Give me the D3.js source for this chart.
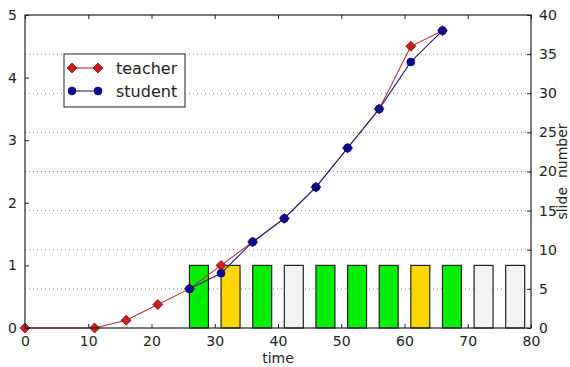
<!DOCTYPE html>
<html>
<head>
<meta charset="utf-8">
<script src="https://cdn.jsdelivr.net/npm/d3@7"></script>
<style>
  body { margin: 0; background: #fff; }
  text { font-family: "DejaVu Sans", sans-serif; fill: #222; }
</style>
</head>
<body>
<div id="chart"></div>
<script>
// slide bars: start time, colour class
const barStarts = [26, 31, 36, 41, 46, 51, 56, 61, 66, 71, 76];
const barKinds = ["green", "yellow", "green", "white", "green", "green", "green", "yellow", "green", "white", "white"];
const barWidth = 3;
const barHeight = 1;

const teacherTime = [0, 11, 16, 21, 26, 31, 36, 41, 46, 51, 56, 61, 66];
const teacherSlide = [0, 0, 1, 3, 5, 8, 11, 14, 18, 23, 28, 36, 38];
const studentTime = [26, 31, 36, 41, 46, 51, 56, 61, 66];
const studentSlide = [5, 7, 11, 14, 18, 23, 28, 34, 38];

const xTicks = [0, 10, 20, 30, 40, 50, 60, 70, 80];
const leftTicks = [0, 1, 2, 3, 4, 5];
const rightTicks = [0, 5, 10, 15, 20, 25, 30, 35, 40];

const W = 570, H = 367;
const plot = { left: 25, right: 531, top: 15, bottom: 328 };

const svg = d3.select('#chart').append('svg')
    .attr('width', W)
    .attr('height', H);

const x = d3.scaleLinear().domain([0, 80]).range([plot.left, plot.right]);
const yL = d3.scaleLinear().domain([0, 5]).range([plot.bottom, plot.top]);
const yR = d3.scaleLinear().domain([0, 40]).range([plot.bottom, plot.top]);

const colours = { green: "#00ee00", yellow: "#ffd500", white: "#f2f2f2" };

// dotted grid from the right axis
svg.append('g')
    .selectAll('line')
    .data(rightTicks.slice(1, -1))
    .enter().append('line')
    .attr('x1', plot.left).attr('x2', plot.right)
    .attr('y1', d => yR(d)).attr('y2', d => yR(d))
    .attr('stroke', '#888')
    .attr('stroke-width', 1)
    .attr('stroke-dasharray', '1,3');

// bars
svg.append('g')
    .selectAll('rect')
    .data(barStarts)
    .enter().append('rect')
    .attr('x', d => x(d))
    .attr('y', yL(barHeight))
    .attr('width', d => x(d + barWidth) - x(d))
    .attr('height', yL(0) - yL(barHeight))
    .attr('fill', (d, i) => colours[barKinds[i]])
    .attr('stroke', '#222')
    .attr('stroke-width', 1.2);

const teacher = teacherTime.map((t, i) => [t, teacherSlide[i]]);
const student = studentTime.map((t, i) => [t, studentSlide[i]]);
const line = d3.line().x(d => x(d[0])).y(d => yR(d[1]));

const diamond = d3.symbol().type(d3.symbolSquare).size(50);

function drawTeacher(g) {
    g.append('path')
        .attr('d', line(teacher))
        .attr('fill', 'none')
        .attr('stroke', '#b3343a')
        .attr('stroke-width', 1.1);
    g.selectAll('path.m')
        .data(teacher)
        .enter().append('path')
        .attr('class', 'm')
        .attr('d', diamond)
        .attr('transform', d => `translate(${x(d[0])},${yR(d[1])}) rotate(45)`)
        .attr('fill', '#cc1f1f')
        .attr('stroke', '#8a1010')
        .attr('stroke-width', 0.8);
}

function drawStudent(g) {
    g.append('path')
        .attr('d', line(student))
        .attr('fill', 'none')
        .attr('stroke', '#23237a')
        .attr('stroke-width', 1.1);
    g.selectAll('circle')
        .data(student)
        .enter().append('circle')
        .attr('cx', d => x(d[0]))
        .attr('cy', d => yR(d[1]))
        .attr('r', 4)
        .attr('fill', '#0b0b96')
        .attr('stroke', '#05055a')
        .attr('stroke-width', 0.6);
}

drawTeacher(svg.append('g'));
drawStudent(svg.append('g'));

// frame
svg.append('rect')
    .attr('x', plot.left).attr('y', plot.top)
    .attr('width', plot.right - plot.left)
    .attr('height', plot.bottom - plot.top)
    .attr('fill', 'none')
    .attr('stroke', '#222')
    .attr('stroke-width', 1.2);

// axes, ticks inside
const tickLen = 4;
const bottomAxis = d3.axisBottom(x).tickValues(xTicks).tickSizeInner(-tickLen).tickSizeOuter(0).tickPadding(8);
const topAxis = d3.axisTop(x).tickValues(xTicks).tickSizeInner(-tickLen).tickSizeOuter(0).tickFormat('');
const leftAxis = d3.axisLeft(yL).tickValues(leftTicks).tickFormat(d3.format('d')).tickSizeInner(-tickLen).tickSizeOuter(0).tickPadding(8);
const rightAxis = d3.axisRight(yR).tickValues(rightTicks).tickSizeInner(-tickLen).tickSizeOuter(0).tickPadding(8);

function styleAxis(g) {
    g.select('.domain').remove();
    g.selectAll('.tick line').attr('stroke', '#222');
    g.selectAll('.tick text')
        .style('font-family', '"DejaVu Sans", sans-serif')
        .style('font-size', '14px')
        .attr('fill', '#222');
}

svg.append('g').attr('transform', `translate(0,${plot.bottom})`).call(bottomAxis).call(styleAxis);
svg.append('g').attr('transform', `translate(0,${plot.top})`).call(topAxis).call(styleAxis);
svg.append('g').attr('transform', `translate(${plot.left},0)`).call(leftAxis).call(styleAxis);
svg.append('g').attr('transform', `translate(${plot.right},0)`).call(rightAxis).call(styleAxis);

// axis labels
svg.append('text')
    .attr('x', (plot.left + plot.right) / 2)
    .attr('y', 363)
    .attr('text-anchor', 'middle')
    .style('font-size', '14px')
    .text('time');

svg.append('text')
    .attr('transform', `translate(567,${(plot.top + plot.bottom) / 2}) rotate(-90)`)
    .attr('text-anchor', 'middle')
    .style('font-size', '14px')
    .style('white-space', 'pre')
    .text('slide  number');

// legend
const legend = svg.append('g');
legend.append('rect')
    .attr('x', 64).attr('y', 54)
    .attr('width', 121).attr('height', 53)
    .attr('fill', '#fff')
    .attr('stroke', '#222')
    .attr('stroke-width', 1);

const legendRows = [
    { name: 'teacher', y: 68 },
    { name: 'student', y: 91 }
];

legendRows.forEach(r => {
    const g = legend.append('g');
    const isT = r.name === 'teacher';
    g.append('line')
        .attr('x1', 72).attr('x2', 98)
        .attr('y1', r.y).attr('y2', r.y)
        .attr('stroke', isT ? '#b3343a' : '#23237a')
        .attr('stroke-width', 1.1);
    [72, 98].forEach(px => {
        if (isT) {
            g.append('path')
                .attr('d', diamond)
                .attr('transform', `translate(${px},${r.y}) rotate(45)`)
                .attr('fill', '#cc1f1f')
                .attr('stroke', '#8a1010')
                .attr('stroke-width', 0.8);
        } else {
            g.append('circle')
                .attr('cx', px).attr('cy', r.y).attr('r', 4)
                .attr('fill', '#0b0b96')
                .attr('stroke', '#05055a')
                .attr('stroke-width', 0.6);
        }
    });
    g.append('text')
        .attr('x', 116)
        .attr('y', r.y + 6)
        .style('font-size', '16px')
        .text(r.name);
});
</script>
</body>
</html>
